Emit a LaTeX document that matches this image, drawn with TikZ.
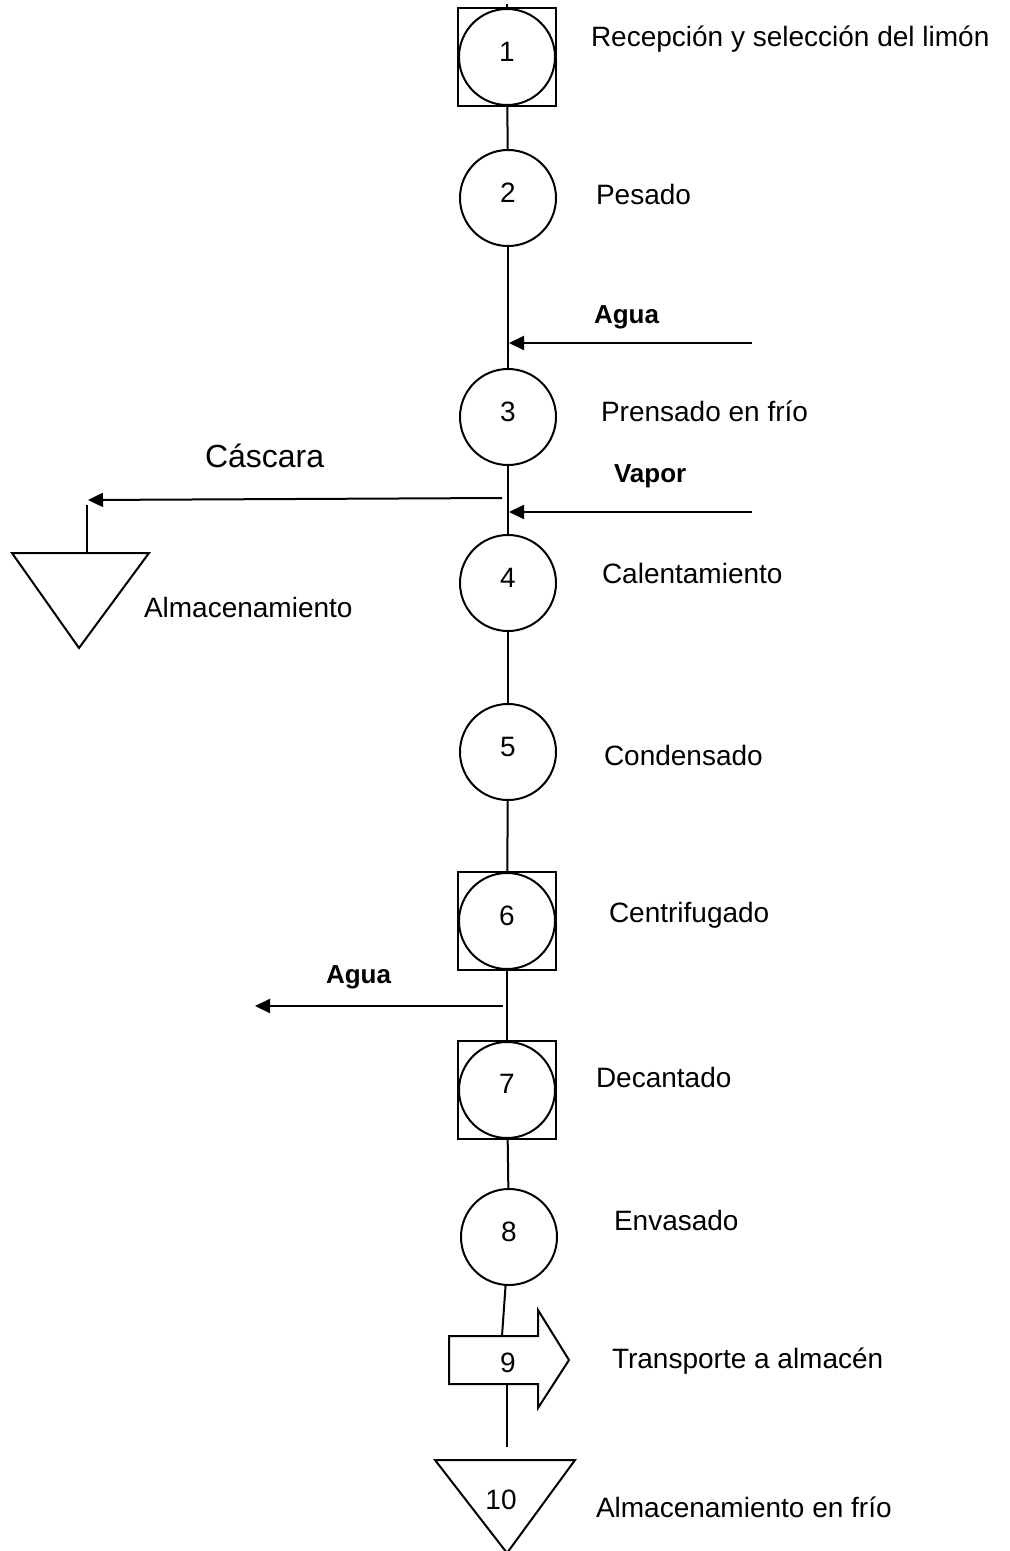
\documentclass[tikz,border=0pt]{standalone}
\usepackage{fontspec}
\setmainfont{Liberation Sans}
\usetikzlibrary{arrows.meta}
\begin{document}
\begin{tikzpicture}[x=0.5pt,y=-0.5pt, line width=1pt,
 circ/.style={draw,circle,minimum size=48pt,inner sep=0pt},
 sq/.style={draw,rectangle,minimum width=49pt,minimum height=49pt,inner sep=0pt},
 num/.style={font=\fontsize{14}{14}\selectfont,inner sep=0pt},
 lbl/.style={font=\fontsize{14}{14}\selectfont,anchor=base west,inner sep=0pt},
 blbl/.style={font=\bfseries\fontsize{13}{13}\selectfont,anchor=base west,inner sep=0pt},
 arr/.style={-{Triangle[length=7.5pt,width=7pt]}},
]
\useasboundingbox (0,0) rectangle (1010,1551);

% main column
\coordinate (top0) at (507,4);
\node[sq] (n1) at (507,57) {};
\node[circ] (c1) at (507,57) {};
\node[num] (t1) at (507,52) {1};
\node[circ] (c2) at (508,198) {};
\node[num] (t2) at (508,193) {2};
\node[circ] (c3) at (508,417) {};
\node[num] (t3) at (508,412) {3};
\node[circ] (c4) at (508,583) {};
\node[num] (t4) at (508,578) {4};
\node[circ] (c5) at (508,752) {};
\node[num] (t5) at (508,747) {5};
\node[sq] (n6) at (507,921) {};
\node[circ] (c6) at (507,921) {};
\node[num] (t6) at (507,916) {6};
\node[sq] (n7) at (507,1090) {};
\node[circ] (c7) at (507,1090) {};
\node[num] (t7) at (507,1084) {7};
\node[circ] (c8) at (509,1237) {};
\node[num] (t8) at (509,1232) {8};

% transport arrow 9
\coordinate (p9t) at (502,1336);
\coordinate (p9b) at (507,1384);
\coordinate (e9) at (507,1447);
\draw (449,1336) -- (538,1336) -- (538,1310) -- (569,1360) -- (538,1408) -- (538,1384) -- (449,1384) -- cycle;
\node[num] (t9) at (508,1363) {9};

% storage triangle 10
\draw (435,1460) -- (575,1460) -- (507,1553) -- cycle;
\node[num] (t10) at (501,1500) {10};

% connectors
\draw (top0) -- (n1);
\draw (n1) -- (c2);
\draw (c2) -- (c3);
\draw (c3) -- (c4);
\draw (c4) -- (c5);
\draw (c5) -- (n6);
\draw (n6) -- (n7);
\draw (n7) -- (c8);
\draw (c8) -- (p9t);
\draw (p9b) -- (e9);

% side flows
\coordinate (a1s) at (752,343);
\coordinate (a1e) at (509,343);
\draw[arr] (a1s) -- (a1e);
\coordinate (v1s) at (752,512);
\coordinate (v1e) at (509,512);
\draw[arr] (v1s) -- (v1e);
\coordinate (k1s) at (502,498);
\coordinate (k1e) at (88,500);
\draw[arr] (k1s) -- (k1e);
\coordinate (a2s) at (503,1006);
\coordinate (a2e) at (255,1006);
\draw[arr] (a2s) -- (a2e);

% left storage triangle
\coordinate (kt) at (87,553);
\coordinate (kv) at (87,505);
\draw (kt) -- (kv);
\draw (12,553) -- (149,553) -- (79,648) -- cycle;

% labels
\node[lbl] (l1) at (590,47) {Recepción y selección del limón};
\node[lbl] (l2) at (595,205) {Pesado};
\node[lbl] (l3) at (600,421) {Prensado en frío};
\node[lbl] (l4) at (601,583) {Calentamiento};
\node[lbl] (l5) at (603,765) {Condensado};
\node[lbl] (l6) at (608,922) {Centrifugado};
\node[lbl] (l7) at (595,1087) {Decantado};
\node[lbl] (l8) at (613,1230) {Envasado};
\node[lbl] (l9) at (611,1368) {Transporte a almacén};
\node[lbl] (l10) at (595,1517) {Almacenamiento en frío};
\node[lbl] (lk) at (143,617) {Almacenamiento};
\node[lbl,font=\fontsize{16}{16}\selectfont] (lc) at (204,467) {Cáscara};
\node[blbl] (la1) at (593,324) {Agua};
\node[blbl] (lv) at (613,482) {Vapor};
\node[blbl] (la2) at (325,983) {Agua};
\end{tikzpicture}
\end{document}
